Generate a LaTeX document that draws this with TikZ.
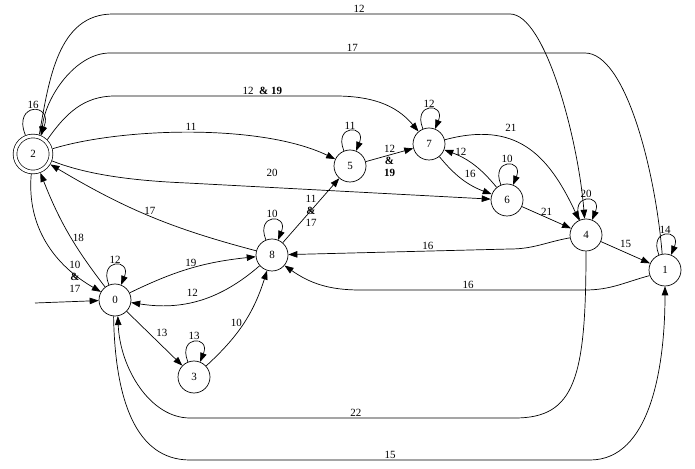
\documentclass[tikz,border=0pt]{standalone}
\usepackage{fontspec}
\setmainfont{Liberation Serif}
\usetikzlibrary{arrows.meta}

\begin{document}
\begin{tikzpicture}[x=1pt,y=1pt,line width=0.7pt,
        font=\fontsize{11}{12}\selectfont,
        >={Triangle[length=9pt,width=6.5pt]},
        state/.style={circle,draw,minimum size=32pt,inner sep=0pt},
        accept/.style={double,double distance=3pt,minimum size=36pt,outer sep=2.3pt},
        lbl/.style={inner sep=1.5pt},
        stack/.style={inner sep=1.5pt,align=center},
        selfloop/.style={loop,out=112,in=68,looseness=6,min distance=10pt}]
        \useasboundingbox (0,0) rectangle (695,468);

        % States
        \node[state,accept] (n2) at (33,314) {2};
        \node[state] (n0) at (115,168) {0};
        \node[state] (n3) at (194,91) {3};
        \node[state] (n8) at (272,213) {8};
        \node[state] (n5) at (350,302) {5};
        \node[state] (n7) at (429,324) {7};
        \node[state] (n6) at (507,268) {6};
        \node[state] (n4) at (586,233) {4};
        \node[state] (n1) at (665,198) {1};
        \coordinate (start) at (35,165);

        % Initial arrow
        \draw[->] (start) -- (n0);

        % Self loops
        \draw[->] (n2) to[selfloop] node[lbl,above] {16} (n2);
        \draw[->] (n0) to[selfloop] node[lbl,above] {12} (n0);
        \draw[->] (n3) to[selfloop] node[lbl,above] {13} (n3);
        \draw[->] (n8) to[selfloop] node[lbl,above] {10} (n8);
        \draw[->] (n5) to[selfloop] node[lbl,above] {11} (n5);
        \draw[->] (n7) to[selfloop] node[lbl,above] {12} (n7);
        \draw[->] (n6) to[selfloop] node[lbl,above] {10} (n6);
        \draw[->] (n4) to[selfloop] node[lbl,above] {20} (n4);
        \draw[->] (n1) to[selfloop] node[lbl,above] {14} (n1);

        % Long arcs over the top
        \draw[->] (n2.72) to[out=80,in=180] (113,454) -- node[lbl,above,pos=0.62] {12} (510,454)
            .. controls (545,454) and (578,330) .. (n4.95);
        \draw[->] (n1.100) .. controls (655,300) and (625,415) .. (585,415)
            -- node[lbl,above,pos=0.49] {17} (110,415) .. controls (75,415) and (45,370) .. (n2.65);
        \draw[->] (n2.45) to[out=55,in=180] (115,372) -- node[lbl,above,pos=0.67] {12\enspace\textbf{\& 19}} (335,372)
            to[out=0,in=130] (n7.130);
        \draw[->] (n2.15) .. controls (120,340) and (260,345) .. node[lbl,above] {11} (n5.155);
        \draw[->] (n2.-20) .. controls (90,292) and (140,287) .. (187,285)
            -- node[lbl,above=9pt,pos=0.28] {20} (n6);

        % Edges around 2 and 0
        \draw[->] (n8) to[bend left=8] node[lbl,above] {17} (n2);
        \draw[->] (n0) to[bend left=8] node[lbl,right,pos=0.45] {18} (n2);
        \draw[->] (n2) to[out=-95,in=150] node[stack,pos=0.83,xshift=-4pt] {10\\\textbf{\&}\\17} (n0);
        \draw[->] (n0) to[bend left=10] node[lbl,above] {19} (n8);
        \draw[->] (n8) to[bend left=25] node[lbl,above=4pt,pos=0.56] {12} (n0);
        \draw[->] (n0) -- node[lbl,above right] {13} (n3);
        \draw[->] (n3) to[bend right=15] node[lbl,left] {10} (n8);

        % Middle of the chain
        \draw[->] (n8) -- node[stack] {11\\\textbf{\&}\\17} (n5);
        \draw[->] (n5) -- node[stack,yshift=-6pt] {12\\\textbf{\&}\\\textbf{19}} (n7);
        \draw[->] (n7) to[out=15,in=115,looseness=1.2] node[lbl,above=6pt,pos=0.38] {21} (n4);
        \draw[->] (n7) to[bend right=15] node[lbl,above right] {16} (n6);
        \draw[->] (n6) to[bend right=15] node[lbl,above,pos=0.74] {12} (n7);
        \draw[->] (n6) -- node[lbl,above] {21} (n4);
        \draw[->] (n4) -- node[lbl,above=3pt] {15} (n1);

        % Back arcs to 8
        \draw[->] (n4) to[out=190,in=0] (510,219) -- node[lbl,above,pos=0.37] {16} (n8);
        \draw[->] (n1.200) to[out=195,in=0] (585,178) -- node[lbl,above,pos=0.52] {16} (360,178)
            to[out=180,in=-35] (n8.-40);

        % Long arcs along the bottom
        \draw[->] (n4.south) .. controls (586,90) and (575,50) .. (515,50)
            -- node[lbl,above,pos=0.49] {22} (190,50) .. controls (150,50) and (120,100) .. (n0.-80);
        \draw[->] (n0.-95) .. controls (115,70) and (135,8) .. (190,8)
            -- node[lbl,above,pos=0.5] {15} (590,8) .. controls (650,8) and (665,100) .. (n1.south);
\end{tikzpicture}
\end{document}
